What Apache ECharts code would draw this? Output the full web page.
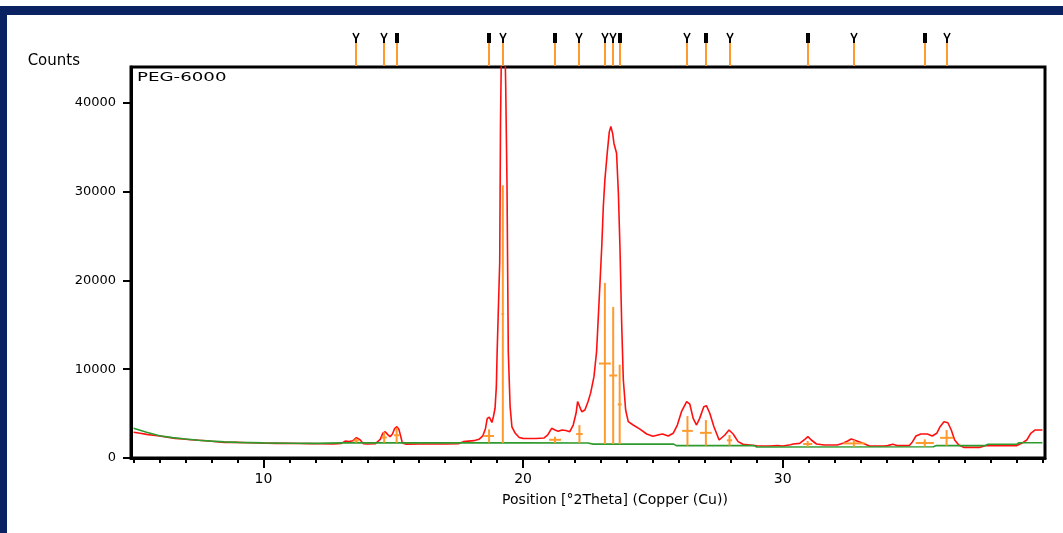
<!DOCTYPE html>
<html>
<head>
<meta charset="utf-8">
<script src="https://cdn.jsdelivr.net/npm/echarts@6/dist/echarts.min.js"></script>
<style>
  html, body { margin: 0; padding: 0; background: #fff; }
  #chart { width: 1063px; height: 533px; }
</style>
</head>
<body>
<div id="chart"></div>
<script>
const twoTheta = [5.0, 5.25, 5.5, 5.75, 6.0, 6.3, 6.6, 6.9, 7.2, 7.5, 7.9, 8.2, 8.5, 9.0, 9.4, 9.8, 10.5, 11.0, 11.4, 11.8, 12.2, 12.7,
  13.0, 13.15, 13.3, 13.45, 13.58, 13.72, 13.85, 14.0, 14.3, 14.5, 14.6, 14.69, 14.8, 14.88, 14.97, 15.05, 15.14, 15.22, 15.35, 15.5,
  16.0, 16.5, 17.0, 17.5, 17.7, 17.9, 18.1, 18.3, 18.45, 18.55, 18.62, 18.7, 18.8, 18.86, 18.92, 18.97, 19.0, 19.05, 19.1, 19.13,
  19.17, 19.22, 19.28, 19.33, 19.38, 19.43, 19.5, 19.57, 19.7, 19.85, 20.0, 20.5, 20.8, 20.95, 21.1, 21.23, 21.35, 21.5, 21.65, 21.8,
  21.93, 22.04, 22.1, 22.17, 22.26, 22.38, 22.5, 22.6, 22.73, 22.83, 22.93, 23.03, 23.09, 23.15, 23.24, 23.32, 23.38, 23.45, 23.5,
  23.6, 23.67, 23.73, 23.8, 23.86, 23.95, 24.05, 24.24, 24.5, 24.76, 25.0, 25.27, 25.37, 25.59, 25.78, 25.94, 26.1, 26.3, 26.42,
  26.55, 26.68, 26.8, 26.96, 27.06, 27.19, 27.35, 27.55, 27.77, 27.93, 28.09, 28.28, 28.47, 28.73, 29.0, 29.5, 29.8, 30.0, 30.3,
  30.4, 30.65, 30.85, 30.97, 31.1, 31.3, 31.6, 32.1, 32.32, 32.5, 32.64, 32.83, 33.09, 33.34, 33.9, 34.04, 34.24, 34.43, 34.87,
  35.0, 35.13, 35.32, 35.57, 35.76, 35.93, 36.06, 36.21, 36.36, 36.49, 36.62, 36.78, 36.97, 37.6, 37.8, 39.0, 39.2, 39.4, 39.55,
  39.71, 40.0];
const counts = [2900, 2780, 2660, 2560, 2470, 2330, 2210, 2130, 2060, 2000, 1910, 1830, 1760, 1760, 1720, 1690, 1650, 1650, 1630, 1620, 1600, 1580,
  1640, 1900, 1850, 1950, 2290, 2050, 1600, 1580, 1600, 2100, 2800, 2960, 2600, 2400, 2700, 3300, 3520, 3200, 1700, 1560,
  1570, 1575, 1580, 1600, 1840, 1900, 1950, 2100, 2500, 3300, 4450, 4600, 4000, 4700, 5600, 8000, 11800, 17000, 22000, 37500,
  47000, 52000, 50000, 42000, 30900, 12000, 5800, 3500, 2780, 2300, 2210, 2200, 2250, 2600, 3340, 3150, 3000, 3150, 3100, 2960,
  3710, 5030, 6340, 6340, 5210, 5400, 6340, 7300, 9150, 11960, 17800, 23800, 28300, 31300, 34300, 36700, 37300, 36500, 35400,
  34300, 29800, 23800, 14800, 8800, 5400, 4090, 3710, 3250, 2700, 2450, 2650, 2700, 2475, 2780, 3710, 5210, 6340, 6075,
  4460, 3710, 4460, 5770, 5890, 5030, 3520, 2025, 2590, 3150, 2700, 1840, 1540, 1460, 1380, 1350, 1400, 1350, 1500,
  1575, 1650, 2100, 2400, 2025, 1575, 1460, 1460, 1650, 1910, 2140, 1950, 1650, 1350, 1350, 1390, 1540, 1390, 1390,
  1840, 2475, 2700, 2700, 2475, 2780, 3520, 4090, 3970, 3150, 2025, 1460, 1200, 1200, 1390, 1390, 1650, 2025, 2780,
  3150, 3150];

// fitted background (green)
const bgTheta = [5.0, 5.5, 6.0, 6.5, 7.0, 7.5, 8.0, 8.5, 9.0, 10.0, 11.0, 12.0, 13.0, 20.0, 22.5, 22.7, 25.8, 25.9, 28.9, 29.0,
  35.8, 35.9, 37.8, 37.9, 39.0, 39.1, 40.0];
const bgCounts = [3340, 2890, 2510, 2290, 2130, 2000, 1900, 1820, 1760, 1700, 1660, 1650, 1700, 1700, 1680, 1560, 1560, 1390, 1390, 1240,
  1270, 1390, 1390, 1540, 1540, 1720, 1720];

// peak list (orange sticks)
const peakPos = [13.57, 14.65, 15.13, 18.69, 19.22, 21.23, 22.17, 23.15, 23.47, 23.72, 26.33, 27.04, 27.95, 30.96, 32.74, 35.47, 36.31];
const peakTop = [2200, 2900, 3400, 3230, 30700, 2400, 3700, 19700, 17000, 10500, 4720, 4270, 2590, 1910, 2025, 2100, 3150];
const peakBase = [1730, 1720, 1720, 1720, 1700, 1700, 1690, 1560, 1560, 1560, 1390, 1390, 1390, 1240, 1260, 1270, 1390];
const peakFwhm = [0.2, 0.2, 0.2, 0.38, 0.1, 0.46, 0.25, 0.46, 0.3, 0.15, 0.41, 0.45, 0.2, 0.35, 0.83, 0.7, 0.5];
const peakMark = ['Y', 'Y', 'I', 'I', 'Y', 'I', 'Y', 'Y', 'Y', 'I', 'Y', 'I', 'Y', 'I', 'Y', 'I', 'Y'];

const xLabels = [10, 20, 30];
const xMinor = [5, 6, 7, 8, 9, 10, 11, 12, 13, 14, 15, 16, 17, 18, 19, 20, 21, 22, 23, 24, 25, 26, 27, 28, 29, 30, 31, 32, 33, 34, 35, 36, 37, 38, 39, 40];
const yLabels = [0, 10000, 20000, 30000, 40000];

const FONT = 'DejaVu Sans';
const ORANGE = '#ff9a2e';

const chart = echarts.init(document.getElementById('chart'));

const scan = twoTheta.map((t, i) => [t, counts[i]]);
const bg = bgTheta.map((t, i) => [t, bgCounts[i]]);
const sticks = peakPos.map((p, i) => [p, peakTop[i], peakBase[i], peakFwhm[i]]);
const marks = peakPos.map((p, i) => [p, 0, peakMark[i]]);
const xTickText = xLabels.map((v) => [v, 0]);

const option = {
    backgroundColor: '#fff',
    animation: false,
    graphic: [
        { type: 'rect', shape: { x: 0, y: 6, width: 1063, height: 9 }, style: { fill: '#0a2262' } },
        { type: 'rect', shape: { x: 0, y: 6, width: 7, height: 527 }, style: { fill: '#0a2262' } },
        {
            type: 'text', left: 137, top: 71, scaleX: 1.4,
            style: { text: 'PEG-6000', font: '13px "DejaVu Sans"', fill: '#000' }
        },
        {
            type: 'text', x: 615, y: 493,
            style: { text: 'Position [°2Theta] (Copper (Cu))', font: '14px "DejaVu Sans"', fill: '#000', align: 'center', verticalAlign: 'top' }
        }
    ],
    grid: {
        left: 131, right: 18, top: 67, bottom: 75,
        show: true, borderColor: '#000', borderWidth: 3
    },
    xAxis: [
        {
            type: 'value', min: 4.9, max: 40.1, position: 'bottom',
            axisLine: { show: true, lineStyle: { color: '#000', width: 3 } },
            axisTick: { show: true, customValues: xMinor, length: 5, lineStyle: { color: '#000', width: 2 } },
            axisLabel: { show: false },
            splitLine: { show: false }
        },
        {
            type: 'value', min: 4.9, max: 40.1, position: 'bottom',
            axisLine: { show: false },
            axisTick: { show: true, customValues: xLabels, length: 10, lineStyle: { color: '#000', width: 2 } },
            axisLabel: { show: false },
            splitLine: { show: false }
        }
    ],
    yAxis: {
        type: 'value', min: 0, max: 44000,
        name: 'Counts', nameLocation: 'end', nameGap: 6,
        nameTextStyle: { fontFamily: FONT, fontSize: 15, color: '#000', align: 'right', verticalAlign: 'middle', padding: [0, 51, 0, 0] },
        axisLine: { show: true, lineStyle: { color: '#000', width: 3 } },
        axisTick: { show: true, customValues: yLabels, length: 8, lineStyle: { color: '#000', width: 2 } },
        axisLabel: {
            customValues: yLabels, margin: 15, fontFamily: FONT, fontSize: 13, color: '#000',
            formatter: (v) => String(v)
        },
        splitLine: { show: false }
    },
    series: [
        {
            name: 'scan', type: 'line', data: scan, symbol: 'none', z: 2,
            lineStyle: { color: '#ff1010', width: 1.6 }
        },
        {
            name: 'background', type: 'line', data: bg, symbol: 'none', z: 3,
            lineStyle: { color: '#2e9a2e', width: 1.6 }
        },
        {
            name: 'peaks', type: 'custom', data: sticks, z: 4,
            renderItem: (params, api) => {
                const pos = api.value(0), top = api.value(1), base = api.value(2), fw = api.value(3);
                const p0 = api.coord([pos, base]);
                const p1 = api.coord([pos, top]);
                const mid = api.coord([pos, (top + base) / 2]);
                const hw = api.size([fw, 0])[0] / 2;
                const st = { stroke: ORANGE, lineWidth: 2 };
                return {
                    type: 'group',
                    children: [
                        { type: 'line', shape: { x1: p0[0], y1: p0[1], x2: p1[0], y2: p1[1] }, style: st },
                        { type: 'line', shape: { x1: mid[0] - hw, y1: mid[1], x2: mid[0] + hw, y2: mid[1] }, style: st }
                    ]
                };
            }
        },
        {
            name: 'marks', type: 'custom', data: marks, z: 5, clip: false,
            renderItem: (params, api) => {
                const x = Math.round(api.coord([api.value(0), 0])[0]);
                const top = params.coordSys.y;
                const kind = marks[params.dataIndex][2];
                const children = [
                    { type: 'line', shape: { x1: x, y1: top - 25, x2: x, y2: top - 1 }, style: { stroke: ORANGE, lineWidth: 2 } }
                ];
                if (kind === 'Y') {
                    children.push({ type: 'polyline', shape: { points: [[x - 3, top - 34], [x, top - 28], [x + 3, top - 34]] }, style: { stroke: '#000', lineWidth: 1.6, fill: null } });
                    children.push({ type: 'line', shape: { x1: x, y1: top - 29, x2: x, y2: top - 24 }, style: { stroke: '#000', lineWidth: 2 } });
                } else {
                    children.push({ type: 'rect', shape: { x: x - 2, y: top - 34, width: 4, height: 10 }, style: { fill: '#000' } });
                }
                return { type: 'group', children };
            }
        },
        {
            // x tick labels placed through the x scale, on their own layer
            name: 'xticklabels', type: 'custom', data: xTickText, z: 100, zlevel: 1, clip: false, silent: true,
            renderItem: (params, api) => {
                const x = api.coord([api.value(0), 0])[0];
                const y = params.coordSys.y + params.coordSys.height + 14;
                return {
                    type: 'text', x: x, y: y,
                    style: { text: String(api.value(0)), font: '14px "DejaVu Sans"', fill: '#000', align: 'center', verticalAlign: 'top' }
                };
            }
        }
    ]
};

chart.setOption(option);
</script>
</body>
</html>
